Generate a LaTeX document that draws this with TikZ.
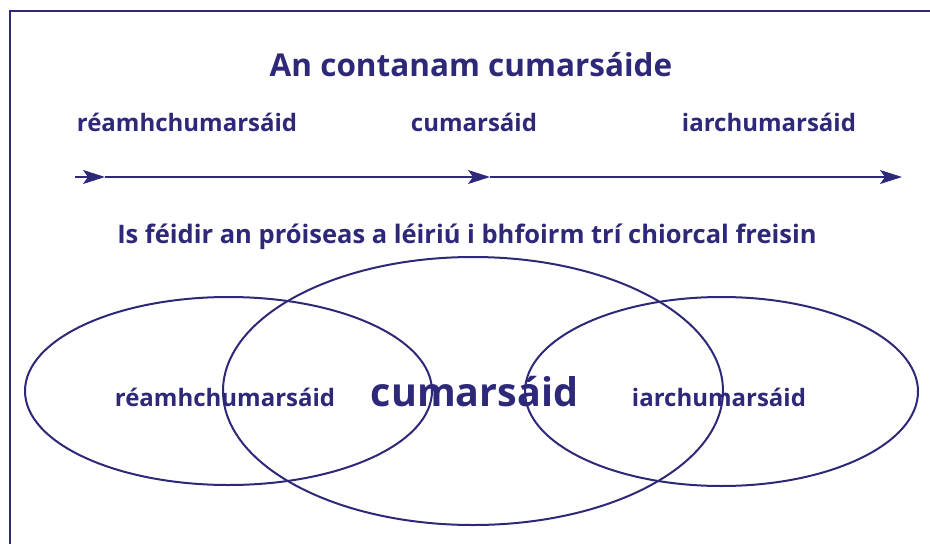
\documentclass[tikz,border=0pt]{standalone}
\usepackage{fontspec}
\setmainfont{Open Sans}
\usepackage{tikz}
\usetikzlibrary{arrows.meta,shapes.geometric}
\definecolor{navy}{RGB}{46,40,120}

\begin{document}
\begin{tikzpicture}[x=1pt,y=-1pt,
    lbl/.style={text=navy, font=\bfseries\fontsize{24}{28}\selectfont, anchor=base, inner sep=0pt},
    ring/.style={shape=ellipse, draw=navy, line width=2pt, inner sep=0pt},
    flow/.style={draw=navy, line width=1.3pt, -{Stealth[length=22pt,width=14pt,inset=5pt]}}]
    \useasboundingbox (0,0) rectangle (930,544);
    \draw[navy, line width=2pt] (10,11) rectangle (960,580);

    \node[lbl, font=\bfseries\fontsize{31.5}{38}\selectfont] (title) at (471,76) {An contanam cumarsáide};
    \node[lbl] (pre) at (187,131) {réamhchumarsáid};
    \node[lbl] (comm) at (474,131) {cumarsáid};
    \node[lbl] (post) at (769,131) {iarchumarsáid};

    % line with three arrow heads
    \coordinate (start) at (75,177);
    \coordinate (tipA) at (105,177);
    \coordinate (tipB) at (490,177);
    \coordinate (tipC) at (902,177);
    \draw[flow] (start) -- (tipA);
    \draw[flow] (tipA) -- (tipB);
    \draw[flow] (tipB) -- (tipC);

    \node[lbl, font=\bfseries\fontsize{25.5}{30}\selectfont] (note) at (467,243) {Is féidir an próiseas a léiriú i bhfoirm trí chiorcal freisin};

    % the three circles
    \node[ring, minimum width=407, minimum height=188] (preRing) at (228.5,391) {};
    \node[ring, minimum width=500, minimum height=268] (commRing) at (473,391) {};
    \node[ring, minimum width=393, minimum height=189] (postRing) at (721.5,391.5) {};

    \node[lbl] (preIn) at (225,406) {réamhchumarsáid};
    \node[lbl, font=\bfseries\fontsize{39.5}{46}\selectfont] (commIn) at (474.5,406) {cumarsáid};
    \node[lbl] (postIn) at (719,406) {iarchumarsáid};
\end{tikzpicture}
\end{document}
